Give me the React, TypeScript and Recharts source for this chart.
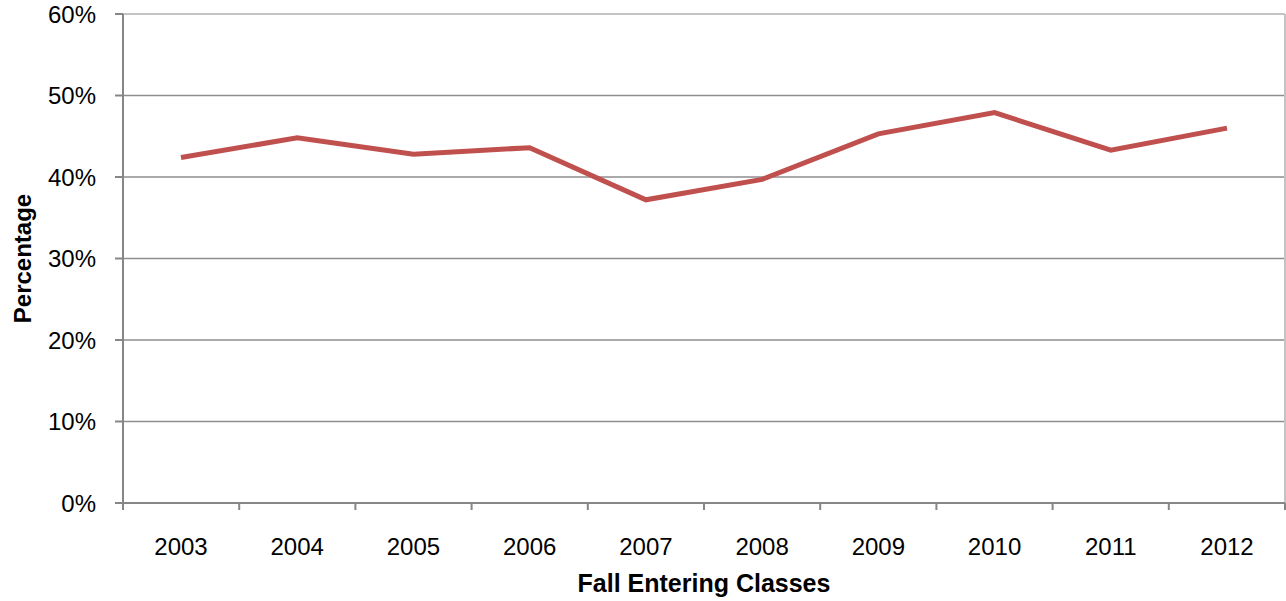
import React from 'react';
import * as Recharts from 'recharts';
import { LineChart, Line, XAxis, YAxis, CartesianGrid } from 'recharts';

const years = ['2003', '2004', '2005', '2006', '2007', '2008', '2009', '2010', '2011', '2012'];
const percentages = [42.4, 44.8, 42.8, 43.6, 37.2, 39.7, 45.3, 47.9, 43.3, 46.0];
const yTicks = [0, 10, 20, 30, 40, 50, 60];
const innerGrid = [10, 20, 30, 40, 50];

const data = years.map((year, i) => ({ year, value: percentages[i] }));

const FONT = '"Liberation Sans", Arial, sans-serif';
const AXIS_GRAY = '#868686';
const BORDER_GRAY = '#c4c4c4';

const usePlotAreaHook: () => any = (Recharts as any).usePlotArea || (() => null);

// light frame on top/right plus category boundary tick marks, like Excel
const PlotFrame = () => {
  const area = usePlotAreaHook();
  if (!area) return null;
  const { x, y, width, height } = area;
  const n = years.length;
  return (
    <g>
      <line x1={x} y1={y} x2={x + width} y2={y} stroke={BORDER_GRAY} strokeWidth={2} />
      <line x1={x + width} y1={y} x2={x + width} y2={y + height} stroke={BORDER_GRAY} strokeWidth={2} />
      {Array.from({ length: n + 1 }, (_, i) => (
        <line
          key={i}
          x1={x + (i * width) / n}
          x2={x + (i * width) / n}
          y1={y + height}
          y2={y + height + 7}
          stroke={AXIS_GRAY}
          strokeWidth={2}
        />
      ))}
    </g>
  );
};

const XTitle = (props: any) => {
  const { x, y, width, height } = props.viewBox;
  return (
    <text
      x={x + width / 2}
      y={y + height - 9}
      textAnchor="middle"
      fontFamily={FONT}
      fontWeight="bold"
      fontSize={25}
      fill="#000"
    >
      Fall Entering Classes
    </text>
  );
};

const YTitle = (props: any) => {
  const { x, y, height } = props.viewBox;
  const cx = x + 31;
  const cy = y + height / 2;
  return (
    <text
      x={cx}
      y={cy}
      transform={`rotate(-90, ${cx}, ${cy})`}
      textAnchor="middle"
      fontFamily={FONT}
      fontWeight="bold"
      fontSize={24}
      fill="#000"
    >
      Percentage
    </text>
  );
};

export default function App() {
  return (
    <div style={{ position: 'absolute', left: 0, top: 0, background: '#fff' }}>
      <LineChart
        width={1286}
        height={601}
        data={data}
        margin={{ top: 14, right: 1, bottom: 0, left: 0 }}
      >
        <CartesianGrid
          vertical={false}
          horizontalValues={innerGrid}
          stroke="#8e8e8e"
          strokeWidth={1.5}
        />
        <XAxis
          dataKey="year"
          height={98}
          padding={{ left: 58, right: 58 }}
          stroke={AXIS_GRAY}
          strokeWidth={2}
          tickLine={false}
          tickSize={7}
          tickMargin={28}
          interval={0}
          tick={{ fill: '#000', fontSize: 24, fontFamily: FONT }}
          label={<XTitle />}
        />
        <YAxis
          domain={[0, 60]}
          ticks={yTicks}
          width={123}
          tickSize={8}
          tickMargin={19}
          interval={0}
          tickFormatter={(v: number) => `${v}%`}
          stroke={AXIS_GRAY}
          strokeWidth={2}
          tick={{ fill: '#000', fontSize: 24, fontFamily: FONT }}
          label={<YTitle />}
        />
        <PlotFrame />
        <Line
          type="linear"
          dataKey="value"
          stroke="#c0504d"
          strokeWidth={5}
          dot={false}
          isAnimationActive={false}
        />
      </LineChart>
    </div>
  );
}
